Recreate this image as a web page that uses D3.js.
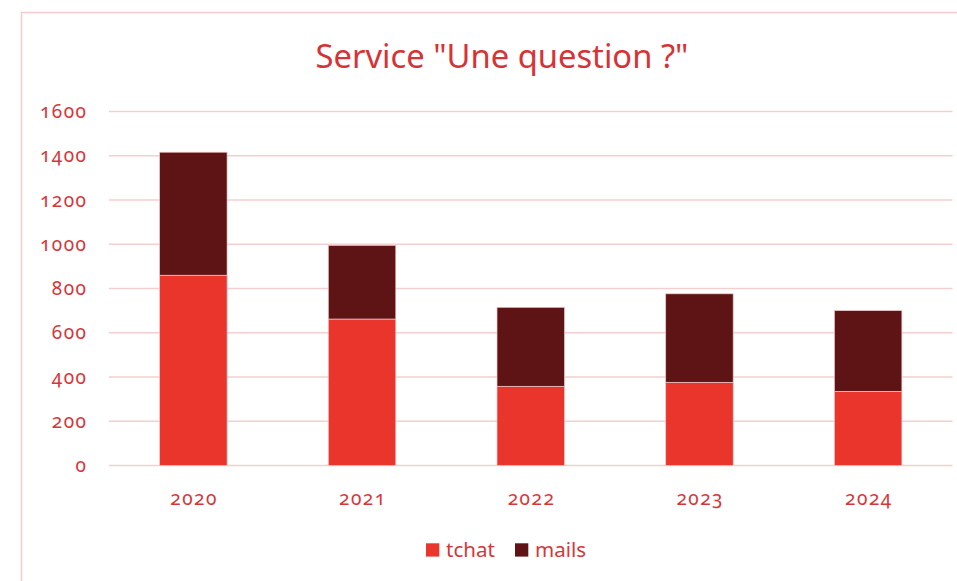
<!DOCTYPE html>
<html><head><meta charset="utf-8">
<script src="https://cdn.jsdelivr.net/npm/d3@7"></script>
<style>
html,body{margin:0;padding:0;background:#fff;}
svg{display:block;font-family:"Noto Sans","Open Sans",sans-serif;}
.num{font-variant-numeric:oldstyle-nums;font-feature-settings:"onum" 1;}
</style></head><body>
<svg id="c" width="957" height="581"></svg>
<script>
const years = ["2020","2021","2022","2023","2024"];
const tchat = [860, 662, 358, 376, 335];
const mails = [556, 333, 357, 400, 365];
const yTicks = [0,200,400,600,800,1000,1200,1400,1600];
const seriesNames = ["tchat","mails"];
const seriesColors = ["#e9352b","#5e1314"];
const titleText = 'Service "Une question ?"';

const svg = d3.select("#c");
const textColor = "#d6363a";
const gridColor = "#f4cfcf";

// chart frame
svg.append("path").attr("d","M21.5,581 L21.5,12.5 L957,12.5")
  .attr("fill","none").attr("stroke","#f5caca").attr("stroke-width",1.5);

const x = d3.scaleBand().domain(years).range([109,952.5]).paddingInner(0.6).paddingOuter(0.3);
const y = d3.scaleLinear().domain([0,1600]).range([465.5,111.5]);

// grid
svg.append("g").selectAll("line").data(yTicks).join("line")
  .attr("x1",109).attr("x2",952.5)
  .attr("y1",d=>y(d)).attr("y2",d=>y(d))
  .attr("stroke",gridColor).attr("stroke-width",1.6);

// y axis labels
const yAxis = d3.axisLeft(y).tickValues(yTicks).tickSize(0).tickPadding(21.5).tickFormat(d3.format("d"));
const ga = svg.append("g").attr("transform","translate(109,0)").call(yAxis);
ga.select(".domain").remove();
ga.selectAll("text").attr("class","num").attr("fill",textColor).style("font-size","19px")
  .style("letter-spacing","1.5px").style("font-family","'Noto Sans',sans-serif");

// x axis labels
const xAxis = d3.axisBottom(x).tickSize(0).tickPadding(26);
const gx = svg.append("g").attr("transform","translate(0,465.5)").call(xAxis);
gx.select(".domain").remove();
gx.selectAll("text").attr("class","num").attr("fill",textColor).style("font-size","19px")
  .style("font-family","'Noto Sans',sans-serif").style("letter-spacing","1.5px")
  .attr("dx","0.75px");

// stacked bars
const rows = years.map((yr,i)=>({year:yr, tchat:tchat[i], mails:mails[i]}));
const stack = d3.stack().keys(seriesNames)(rows);
const color = d3.scaleOrdinal().domain(seriesNames).range(seriesColors);
svg.append("g").selectAll("g").data(stack).join("g")
  .attr("fill",d=>color(d.key))
  .selectAll("rect").data(d=>d).join("rect")
  .attr("x",d=>x(d.data.year)).attr("width",x.bandwidth())
  .attr("y",d=>y(d[1])).attr("height",d=>y(d[0])-y(d[1]))
  .attr("stroke","#f2c8c8").attr("stroke-width",0.7);

// title
const t = svg.append("text").attr("x",502).attr("y",67.5).attr("text-anchor","middle")
  .attr("fill","#d73235").style("font-size","33px").text(titleText);
const tw = t.node().getComputedTextLength();
t.style("font-size",(33*373/tw).toFixed(2)+"px");

// legend
const legend = svg.append("g");
const lx = [426, 515];
const lt = [446, 535];
seriesNames.forEach((s,i)=>{
  legend.append("rect").attr("x",lx[i]).attr("y",543.3).attr("width",13.3).attr("height",13.3).attr("fill",seriesColors[i]);
  legend.append("text").attr("x",lt[i]).attr("y",556.5).attr("fill",textColor).style("font-size","20.5px").text(s);
});
</script>
</body></html>
